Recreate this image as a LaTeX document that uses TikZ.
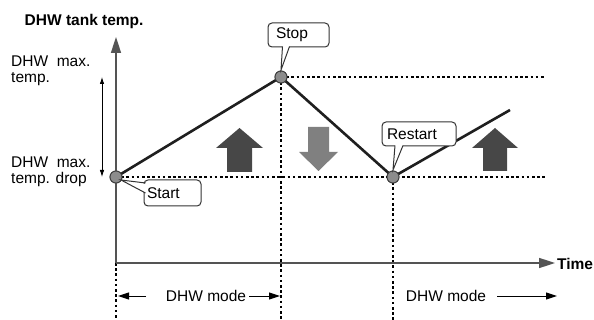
\documentclass[tikz,border=0pt]{standalone}
\usepackage{fontspec}
\setmainfont{Liberation Sans}
\usetikzlibrary{arrows.meta}
\begin{document}
\begin{tikzpicture}[x=1pt,y=-1pt,
  lbl/.style={font=\fontsize{15.5}{15.5}\selectfont, inner sep=0pt},
  blbl/.style={font=\fontsize{15.5}{15.5}\selectfont\bfseries, inner sep=0pt},
  axis/.style={draw=black!67, line width=1.6pt, -{Triangle[length=16pt,width=10pt]}},
  guide/.style={draw=black, line width=1.1pt, dash pattern=on 2.6pt off 2.6pt},
  curve/.style={draw=black!88, line width=2.6pt, line join=round},
  dot/.style={circle, draw=black!75, fill=black!45, line width=0.9pt, minimum size=12pt, inner sep=0pt},
  cbox/.style={draw=black!80, fill=white, line width=1pt, rounded corners=4pt, inner ysep=0pt,
               align=left, font=\fontsize{15.5}{15.5}\selectfont},
  ptr/.style={draw=black!80, line width=1pt, line join=miter},
  thinarrow/.style={draw=black, line width=0.8pt, {Latex[length=7pt,width=4.5pt]}-{Latex[length=7pt,width=4.5pt]}},
  modearrow/.style={draw=black, line width=1pt, -{Triangle[length=11pt,width=7pt]}},
  upfill/.style={fill=black!72},
  downfill/.style={fill=black!50}
]
\useasboundingbox (0,0) rectangle (594,320);

% guide points
\coordinate (yb) at (116,263);
\coordinate (yt) at (116,37);
\coordinate (xt) at (555,263);
\coordinate (ub) at (116,320);
\coordinate (sb) at (281,320);
\coordinate (rb) at (393,320);
\coordinate (hi) at (545,77);
\coordinate (lo) at (545,177);
\coordinate (endp) at (510,110);

% circles (nodes)
\node[dot] (start) at (116,177) {};
\node[dot] (stop) at (281,77) {};
\node[dot] (restart) at (393,177) {};

% dotted guides
\draw[guide] (stop.center) -- (hi);
\draw[guide] (start.center) -- (lo);
\draw[guide] (stop.center) -- (sb);
\draw[guide] (restart.center) -- (rb);
\draw[guide] (yb) -- (ub);

% axes
\draw[axis] (yb) -- (yt);
\draw[axis] (yb) -- (xt);

% graph line
\draw[curve] (start.center) -- (stop.center) -- (restart.center) -- (endp);

% redraw circles on top
\node[dot] at (start) {};
\node[dot] at (stop) {};
\node[dot] at (restart) {};

% block arrows
\fill[upfill] (227,172) -- (252,172) -- (252,148) -- (263,148) -- (239.5,128) -- (216,148) -- (227,148) -- cycle;
\fill[upfill] (483,171) -- (507,171) -- (507,148) -- (518,148) -- (495,128) -- (472,148) -- (483,148) -- cycle;
\fill[downfill] (308,127) -- (329,127) -- (329,152) -- (338,152) -- (318.5,171) -- (299,152) -- (308,152) -- cycle;

% double arrow at left
\coordinate (da1) at (102,77);
\coordinate (da2) at (102,177);
\draw[thinarrow] (da1) -- (da2);

% labels
\node[blbl, anchor=west] (ylabel) at (24.5,21) {DHW tank temp.};
\node[blbl, anchor=west] (xlabel) at (557,264) {Time};
\node[lbl, anchor=west, align=left] (maxlbl) at (11,71) {DHW\ \ max.\\temp.};
\node[lbl, anchor=west, align=left] (droplbl) at (11,172) {DHW\ \ max.\\temp. drop};

% callouts
\node[cbox, text width=51pt, inner xsep=3pt, minimum height=26pt] (startbox) at (172.5,193) {Start};
\fill[white] (146,184) -- (121,180) -- (146,193) -- cycle;
\draw[ptr] (145.5,183) -- (121,180) -- (145.5,193);

\node[cbox, text width=45pt, inner xsep=8pt, minimum height=24pt] (stopbox) at (298.5,35) {Stop};
\fill[white] (282.5,46) -- (281,70) -- (289.5,46) -- cycle;
\draw[ptr] (282.5,46.5) -- (281,70) -- (289.5,46.5);

\node[cbox, text width=64pt, inner xsep=5pt, minimum height=24pt] (restartbox) at (419,134) {Restart};
\fill[white] (395,145) -- (393,170) -- (403,145) -- cycle;
\draw[ptr] (395,145.5) -- (393,170) -- (403,145.5);

% DHW mode arrows
\node[lbl] (mode1) at (206,296) {DHW mode};
\node[lbl] (mode2) at (446,296) {DHW mode};
\coordinate (m1l) at (118,296);
\coordinate (m1r) at (280,296);
\coordinate (m2r) at (557,296);
\draw[modearrow] (146,296) -- (m1l);
\draw[modearrow] (mode1.east) ++(3,0) -- (m1r);
\draw[modearrow] (mode2.east) ++(11,0) -- (m2r);
\end{tikzpicture}
\end{document}
